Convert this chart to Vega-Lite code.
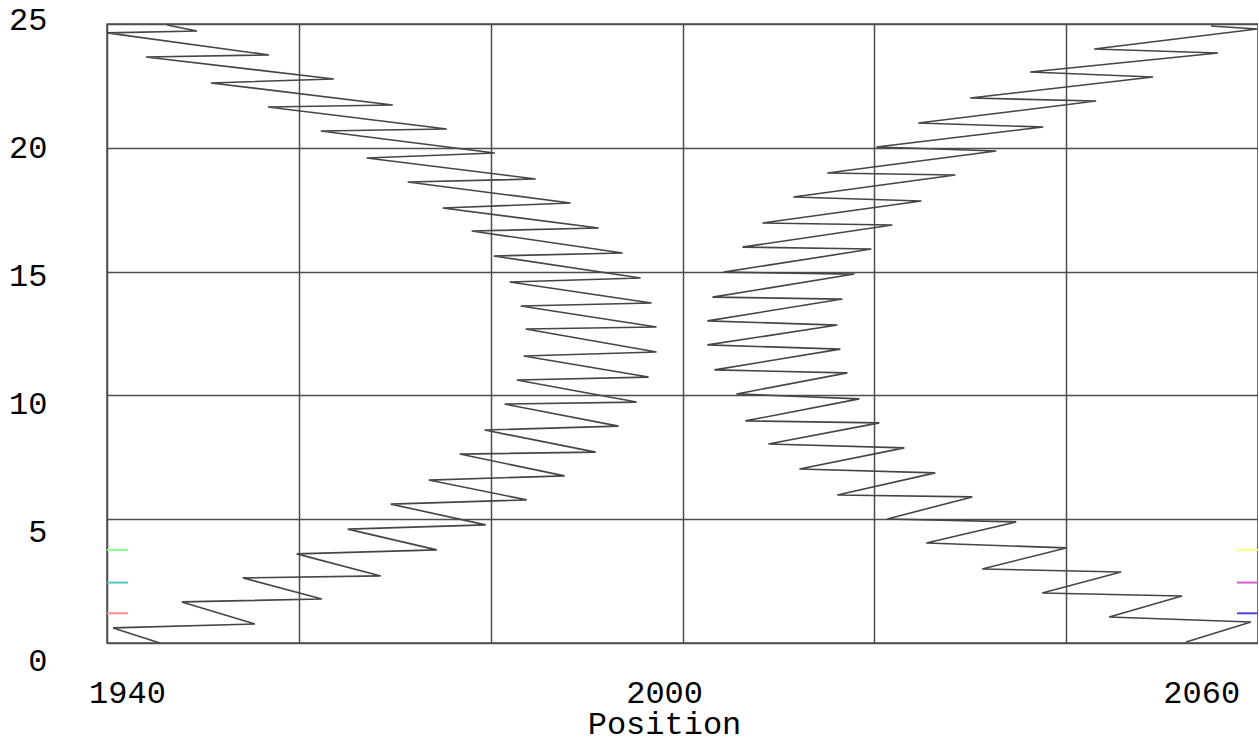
{
  "$schema": "https://vega.github.io/schema/vega-lite/v6.json",
  "width": 1151,
  "height": 619,
  "autosize": {"type": "none"},
  "padding": {"left": 107, "top": 24, "right": 0, "bottom": 99},
  "background": "white",
  "config": {"view": {"stroke": "#4d4d4d", "strokeWidth": 1.5}, "font": "Liberation Mono"},
  "datasets": {
    "trace": [
      {"trace": "A", "i": 0, "x": 1945.52, "y": 0},
      {"trace": "A", "i": 1, "x": 1940.63, "y": 0.61},
      {"trace": "A", "i": 2, "x": 1955.42, "y": 0.77},
      {"trace": "A", "i": 3, "x": 1947.81, "y": 1.66},
      {"trace": "A", "i": 4, "x": 1962.40, "y": 1.78},
      {"trace": "A", "i": 5, "x": 1954.17, "y": 2.63},
      {"trace": "A", "i": 6, "x": 1968.54, "y": 2.71},
      {"trace": "A", "i": 7, "x": 1959.79, "y": 3.60},
      {"trace": "A", "i": 8, "x": 1974.38, "y": 3.76},
      {"trace": "A", "i": 9, "x": 1965.10, "y": 4.60},
      {"trace": "A", "i": 10, "x": 1979.48, "y": 4.77},
      {"trace": "A", "i": 11, "x": 1969.58, "y": 5.61},
      {"trace": "A", "i": 12, "x": 1983.75, "y": 5.78},
      {"trace": "A", "i": 13, "x": 1973.54, "y": 6.58},
      {"trace": "A", "i": 14, "x": 1987.71, "y": 6.75},
      {"trace": "A", "i": 15, "x": 1976.77, "y": 7.63},
      {"trace": "A", "i": 16, "x": 1990.94, "y": 7.71},
      {"trace": "A", "i": 17, "x": 1979.38, "y": 8.60},
      {"trace": "A", "i": 18, "x": 1993.33, "y": 8.76},
      {"trace": "A", "i": 19, "x": 1981.46, "y": 9.65},
      {"trace": "A", "i": 20, "x": 1995.21, "y": 9.73},
      {"trace": "A", "i": 21, "x": 1982.71, "y": 10.62},
      {"trace": "A", "i": 22, "x": 1996.46, "y": 10.74},
      {"trace": "A", "i": 23, "x": 1983.44, "y": 11.59},
      {"trace": "A", "i": 24, "x": 1997.29, "y": 11.75},
      {"trace": "A", "i": 25, "x": 1983.65, "y": 12.68},
      {"trace": "A", "i": 26, "x": 1997.29, "y": 12.76},
      {"trace": "A", "i": 27, "x": 1983.13, "y": 13.61},
      {"trace": "A", "i": 28, "x": 1996.77, "y": 13.73},
      {"trace": "A", "i": 29, "x": 1981.98, "y": 14.58},
      {"trace": "A", "i": 30, "x": 1995.63, "y": 14.74},
      {"trace": "A", "i": 31, "x": 1980.31, "y": 15.63},
      {"trace": "A", "i": 32, "x": 1993.75, "y": 15.75},
      {"trace": "A", "i": 33, "x": 1978.02, "y": 16.64},
      {"trace": "A", "i": 34, "x": 1991.25, "y": 16.76},
      {"trace": "A", "i": 35, "x": 1975.00, "y": 17.57},
      {"trace": "A", "i": 36, "x": 1988.33, "y": 17.77},
      {"trace": "A", "i": 37, "x": 1971.35, "y": 18.62},
      {"trace": "A", "i": 38, "x": 1984.69, "y": 18.74},
      {"trace": "A", "i": 39, "x": 1967.08, "y": 19.59},
      {"trace": "A", "i": 40, "x": 1980.42, "y": 19.79},
      {"trace": "A", "i": 41, "x": 1962.29, "y": 20.68},
      {"trace": "A", "i": 42, "x": 1975.42, "y": 20.76},
      {"trace": "A", "i": 43, "x": 1956.77, "y": 21.65},
      {"trace": "A", "i": 44, "x": 1969.79, "y": 21.73},
      {"trace": "A", "i": 45, "x": 1950.83, "y": 22.62},
      {"trace": "A", "i": 46, "x": 1963.65, "y": 22.78},
      {"trace": "A", "i": 47, "x": 1944.06, "y": 23.67},
      {"trace": "A", "i": 48, "x": 1956.88, "y": 23.75},
      {"trace": "A", "i": 49, "x": 1940.00, "y": 24.64},
      {"trace": "A", "i": 50, "x": 1949.38, "y": 24.72},
      {"trace": "A", "i": 51, "x": 1946.25, "y": 24.96},
      {"trace": "B", "i": 0, "x": 2052.50, "y": 0.04},
      {"trace": "B", "i": 1, "x": 2059.27, "y": 0.85},
      {"trace": "B", "i": 2, "x": 2044.48, "y": 1.05},
      {"trace": "B", "i": 3, "x": 2052.08, "y": 1.90},
      {"trace": "B", "i": 4, "x": 2037.50, "y": 2.02},
      {"trace": "B", "i": 5, "x": 2045.73, "y": 2.87},
      {"trace": "B", "i": 6, "x": 2031.25, "y": 2.99},
      {"trace": "B", "i": 7, "x": 2040.00, "y": 3.84},
      {"trace": "B", "i": 8, "x": 2025.42, "y": 4.04},
      {"trace": "B", "i": 9, "x": 2034.79, "y": 4.89},
      {"trace": "B", "i": 10, "x": 2021.35, "y": 5.01},
      {"trace": "B", "i": 11, "x": 2030.21, "y": 5.90},
      {"trace": "B", "i": 12, "x": 2016.15, "y": 5.98},
      {"trace": "B", "i": 13, "x": 2026.35, "y": 6.87},
      {"trace": "B", "i": 14, "x": 2012.19, "y": 7.03},
      {"trace": "B", "i": 15, "x": 2023.13, "y": 7.88},
      {"trace": "B", "i": 16, "x": 2008.96, "y": 8.04},
      {"trace": "B", "i": 17, "x": 2020.52, "y": 8.89},
      {"trace": "B", "i": 18, "x": 2006.56, "y": 8.97},
      {"trace": "B", "i": 19, "x": 2018.44, "y": 9.86},
      {"trace": "B", "i": 20, "x": 2005.63, "y": 10.06},
      {"trace": "B", "i": 21, "x": 2017.19, "y": 10.91},
      {"trace": "B", "i": 22, "x": 2003.33, "y": 11.03},
      {"trace": "B", "i": 23, "x": 2016.46, "y": 11.87},
      {"trace": "B", "i": 24, "x": 2002.60, "y": 12.04},
      {"trace": "B", "i": 25, "x": 2016.15, "y": 12.84},
      {"trace": "B", "i": 26, "x": 2002.60, "y": 13.01},
      {"trace": "B", "i": 27, "x": 2016.67, "y": 13.89},
      {"trace": "B", "i": 28, "x": 2003.13, "y": 13.97},
      {"trace": "B", "i": 29, "x": 2017.92, "y": 14.90},
      {"trace": "B", "i": 30, "x": 2004.27, "y": 14.98},
      {"trace": "B", "i": 31, "x": 2019.69, "y": 15.91},
      {"trace": "B", "i": 32, "x": 2006.25, "y": 15.99},
      {"trace": "B", "i": 33, "x": 2021.88, "y": 16.88},
      {"trace": "B", "i": 34, "x": 2008.33, "y": 16.96},
      {"trace": "B", "i": 35, "x": 2024.90, "y": 17.85},
      {"trace": "B", "i": 36, "x": 2011.56, "y": 18.01},
      {"trace": "B", "i": 37, "x": 2028.44, "y": 18.90},
      {"trace": "B", "i": 38, "x": 2015.10, "y": 18.98},
      {"trace": "B", "i": 39, "x": 2032.71, "y": 19.87},
      {"trace": "B", "i": 40, "x": 2020.21, "y": 20.03},
      {"trace": "B", "i": 41, "x": 2037.60, "y": 20.84},
      {"trace": "B", "i": 42, "x": 2024.58, "y": 21.00},
      {"trace": "B", "i": 43, "x": 2043.13, "y": 21.89},
      {"trace": "B", "i": 44, "x": 2030.00, "y": 22.01},
      {"trace": "B", "i": 45, "x": 2049.06, "y": 22.86},
      {"trace": "B", "i": 46, "x": 2036.25, "y": 23.06},
      {"trace": "B", "i": 47, "x": 2055.83, "y": 23.83},
      {"trace": "B", "i": 48, "x": 2042.92, "y": 23.99},
      {"trace": "B", "i": 49, "x": 2059.90, "y": 24.80},
      {"trace": "B", "i": 50, "x": 2055.10, "y": 24.92}
    ],
    "markers": [
      {"m": "L1", "x": 1940, "x2": 1942.2, "y": 1.2},
      {"m": "L2", "x": 1940, "x2": 1942.2, "y": 2.44},
      {"m": "L3", "x": 1940, "x2": 1942.2, "y": 3.76},
      {"m": "R1", "x": 2057.8, "x2": 2060, "y": 1.2},
      {"m": "R2", "x": 2057.8, "x2": 2060, "y": 2.44},
      {"m": "R3", "x": 2057.8, "x2": 2060, "y": 3.76}
    ]
  },
  "layer": [
    {
      "data": {"name": "trace"},
      "mark": {"type": "line", "color": "#454545", "strokeWidth": 1.6, "clip": true},
      "encoding": {
        "x": {
          "field": "x", "type": "quantitative",
          "scale": {"domain": [1940, 2060], "nice": false, "zero": false},
          "axis": {
            "values": [1940, 1960, 1980, 2000, 2020, 2040, 2060],
            "format": "d",
            "labelExpr": "(datum.value == 1940 || datum.value == 2000 || datum.value == 2060) ? datum.label : ''",
            "grid": true, "gridColor": "#4d4d4d", "gridWidth": 1.5, "gridOpacity": 1,
            "domain": false, "ticks": false, "tickSize": 0,
            "labelFont": "Liberation Mono", "labelFontSize": 32, "labelColor": "#000000",
            "labelPadding": 49, "labelBaseline": "middle", "labelFlush": false, "labelOverlap": false,
            "labelOffset": {"expr": "20 - (datum.value - 1940) * 0.64"},
            "title": "Position", "titleFont": "Liberation Mono", "titleFontSize": 32,
            "titleFontWeight": "normal", "titleColor": "#000000",
            "titleX": 557, "titleY": 90, "titleBaseline": "alphabetic", "titleAlign": "center", "titleAnchor": null
          }
        },
        "y": {
          "field": "y", "type": "quantitative",
          "scale": {"domain": [0, 25], "nice": false, "zero": false},
          "axis": {
            "values": [0, 5, 10, 15, 20, 25],
            "grid": true, "gridColor": "#4d4d4d", "gridWidth": 1.5, "gridOpacity": 1,
            "domain": false, "ticks": false, "tickSize": 0,
            "labelFont": "Liberation Mono", "labelFontSize": 32, "labelColor": "#000000",
            "labelPadding": 60, "labelAlign": "right", "labelBaseline": "middle",
            "labelFlush": false, "labelOverlap": false,
            "labelOffset": {"expr": "17 - 0.88 * datum.value"},
            "title": null
          }
        },
        "detail": {"field": "trace", "type": "nominal"},
        "order": {"field": "i", "type": "quantitative"}
      }
    },
    {
      "data": {"name": "markers"},
      "mark": {"type": "rule", "strokeWidth": 2},
      "encoding": {
        "x": {"field": "x", "type": "quantitative"},
        "x2": {"field": "x2"},
        "y": {"field": "y", "type": "quantitative"},
        "color": {
          "field": "m", "type": "nominal", "legend": null,
          "scale": {"domain": ["L1", "L2", "L3", "R1", "R2", "R3"],
                    "range": ["#ff8c8c", "#50c8c8", "#88ff88", "#4848d8", "#d060d0", "#ffff80"]}
        }
      }
    }
  ]
}
